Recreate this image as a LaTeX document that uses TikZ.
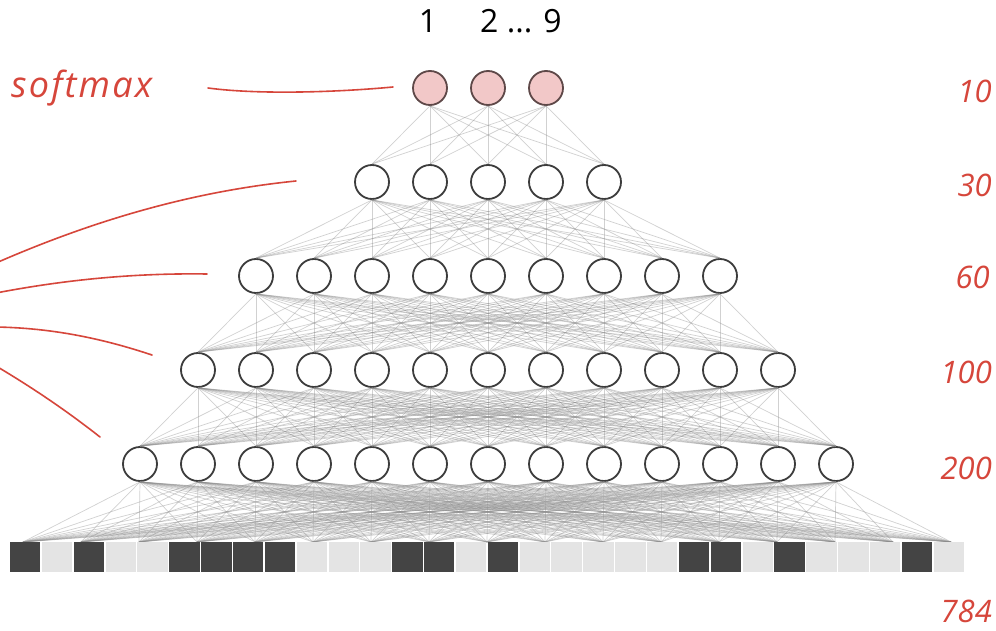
\documentclass[tikz,border=0pt]{standalone}
\usepackage{fontspec}
\setmainfont{Open Sans}
\newfontfamily\handfont{Open Sans}[LetterSpace=6]
\newfontfamily\handnum{Open Sans}
\definecolor{neuronline}{HTML}{3C3C3C}
\definecolor{softpink}{HTML}{F2C8C8}
\definecolor{softline}{HTML}{5E4848}
\definecolor{pixdark}{HTML}{444444}
\definecolor{pixlight}{HTML}{E4E4E4}
\definecolor{notered}{HTML}{D6463B}
\begin{document}
\begin{tikzpicture}[x=1pt,y=-1pt,
  neuron/.style={circle,draw=neuronline,line width=1.8pt,fill=white,minimum size=34pt,inner sep=0pt},
  outneuron/.style={neuron,fill=softpink,draw=softline},
  synapse/.style={draw=black!45,line width=0.7pt,opacity=0.4},
  pixbase/.style={rectangle,draw=none,minimum width=30.4pt,minimum height=30pt,inner sep=0pt},
  pixD/.style={pixbase,fill=pixdark},
  pixL/.style={pixbase,fill=pixlight},
  note/.style={text=notered,font=\handnum\itshape\fontsize{31}{34}\selectfont,inner sep=0pt,anchor=base east},
  wordnote/.style={text=notered,font=\handfont\itshape\fontsize{36}{38}\selectfont,inner sep=0pt,anchor=base west},
  stroke/.style={draw=notered,line width=1.6pt,line cap=round},
  digit/.style={font=\fontsize{32}{36}\selectfont,inner sep=0pt,anchor=base}]

% canvas
\fill[white] (0,0) rectangle (996,631);
\useasboundingbox (0,0) rectangle (996,631);

% output layer (softmax)
\foreach \i in {1,...,3}
  \node[outneuron] (n1-\i) at ({430+58*(\i-1)},88) {};
% hidden layers
\foreach \l/\n/\y/\x in {2/5/182/372, 3/9/276/256, 4/11/370/198, 5/13/464/140}
  \foreach \i in {1,...,\n}
    \node[neuron] (n\l-\i) at ({\x+58*(\i-1)},\y) {};

% fully connected weights between consecutive layers
\foreach \l/\n/\m in {1/3/5, 2/5/9, 3/9/11, 4/11/13} {
  \pgfmathtruncatemacro\nl{\l+1}
  \foreach \i in {1,...,\n}
    \foreach \j in {1,...,\m}
      \draw[synapse] (n\l-\i.south) -- (n\nl-\j.north);
}

% input pixels: attachment points on the pixel row
\foreach \k in {0,...,16}
  \coordinate (in\k) at ({23+58*\k},542);
\foreach \i in {1,...,13}
  \foreach \k in {0,...,16}
    \draw[synapse] (n5-\i.south) -- (in\k);

% pixel row (784 inputs, 30 shown)
\foreach \c [count=\k from 0] in {D,L,D,L,L,D,D,D,D,L,L,L,D,D,L,D,L,L,L,L,L,D,D,L,D,L,L,L,D,L}
  \node[pix\c] (px\k) at ({25.2+31.85*\k},557) {};

% class labels
\node[digit] (lab1) at (428,33) {1};
\node[digit] (lab29) at (521,33) {2 ... 9};

% layer sizes
\node[note] (s10) at (992,103) {10};
\node[note] (s30) at (992,197) {30};
\node[note] (s60) at (990,288) {60};
\node[note] (s100) at (992,383) {100};
\node[note] (s200) at (992,479) {200};
\node[note] (s784) at (992,622) {784};

% annotation strokes
\node[wordnote] (smx) at (11,98) {softmax};
\coordinate (smxa) at (208,88);
\coordinate (smxb) at (393,87);
\draw[stroke] (smxa) .. controls (260,95) and (340,92) .. (smxb);

\coordinate (h1a) at (-4,263);  \coordinate (h1b) at (296,181);
\coordinate (h2a) at (-4,293);  \coordinate (h2b) at (207,274);
\coordinate (h3a) at (-4,327);  \coordinate (h3b) at (152,355);
\coordinate (h4a) at (-4,366);  \coordinate (h4b) at (100,437);
\draw[stroke] (h1a) .. controls (99,218) and (197,191) .. (h1b);
\draw[stroke] (h2a) .. controls (69,279) and (138,273) .. (h2b);
\draw[stroke] (h3a) .. controls (51,328) and (101,338) .. (h3b);
\draw[stroke] (h4a) .. controls (33,388) and (67,411) .. (h4b);
\end{tikzpicture}
\end{document}
